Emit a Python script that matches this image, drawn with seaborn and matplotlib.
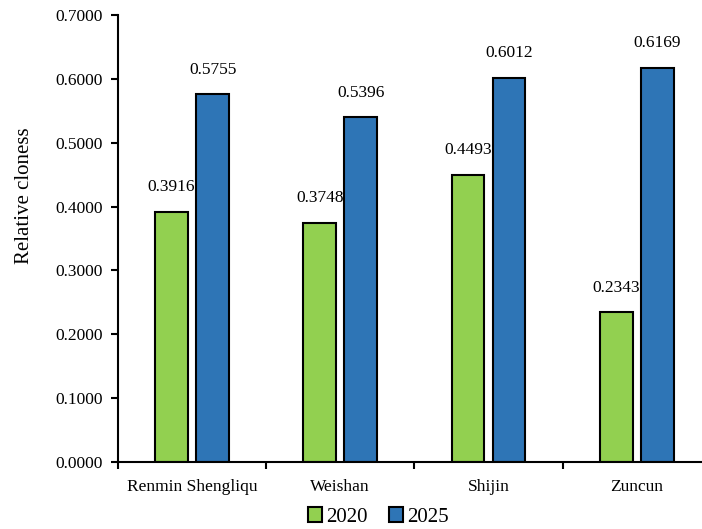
import pandas as pd
import matplotlib
matplotlib.use("Agg")
import matplotlib.pyplot as plt
from matplotlib.ticker import FixedLocator, FormatStrFormatter
import seaborn as sns

towns = ["Renmin Shengliqu", "Weishan", "Shijin", "Zuncun"]
years = ["2020", "2025"]
v2020 = [0.3916, 0.3748, 0.4493, 0.2343]
v2025 = [0.5755, 0.5396, 0.6012, 0.6169]

df = pd.DataFrame({
    "town": towns * 2,
    "year": [years[0]] * 4 + [years[1]] * 4,
    "value": v2020 + v2025,
})

sns.set_theme(style="ticks", rc={"text.color": "black", "axes.labelcolor": "black",
                                 "xtick.color": "black", "ytick.color": "black"})
plt.rcParams["font.family"] = ["Liberation Serif", "DejaVu Serif"]

fig = plt.figure(figsize=(7.02, 5.29), dpi=100)
ax = fig.add_axes([0.168, 0.1267, 0.832, 0.845])

sns.barplot(data=df, x="town", y="value", hue="year", order=towns, hue_order=years,
            palette=["#92D050", "#2E75B6"], saturation=1, width=0.554, gap=0.2,
            edgecolor="black", linewidth=1.5, ax=ax)

for cont in ax.containers:
    ax.bar_label(cont, fmt="%.4f", padding=12, fontsize=12.5, color="black")

ax.set_ylim(0, 0.7)
ax.set_xlim(-0.5, 3.44)
ax.set_yticks([i / 10 for i in range(8)])
ax.yaxis.set_major_formatter(FormatStrFormatter("%.4f"))
ax.tick_params(axis="y", labelsize=12.5, width=1.5, length=5, direction="out", pad=6)
ax.tick_params(axis="x", which="major", length=0, labelsize=12.5, pad=12)
ax.xaxis.set_minor_locator(FixedLocator([-0.5, 0.5, 1.5, 2.5]))
ax.tick_params(axis="x", which="minor", length=5, width=1.5)
ax.set_xlabel("")
ax.set_ylabel("Relative cloness", fontsize=15)
ax.yaxis.set_label_coords(-0.143, 0.595)
for s in ["left", "bottom"]:
    ax.spines[s].set_linewidth(1.5)
    ax.spines[s].set_color("black")
sns.despine(ax=ax)

ax.legend(loc="center", bbox_to_anchor=(0.446, -0.123), ncol=2, frameon=False,
          fontsize=15, handlelength=0.7, handleheight=0.7, handletextpad=0.2,
          columnspacing=1.0, borderpad=0)

fig.savefig("out.png", dpi=100)
